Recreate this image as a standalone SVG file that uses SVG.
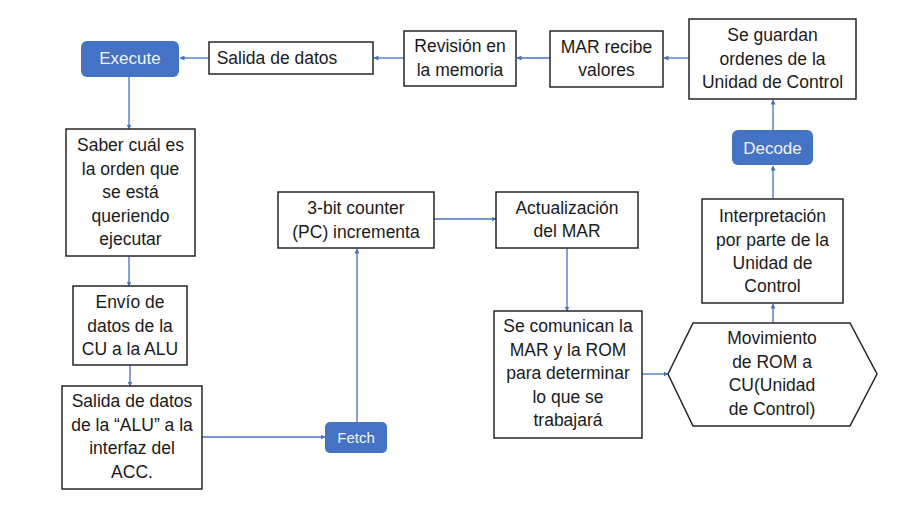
<svg xmlns="http://www.w3.org/2000/svg" width="913" height="508" viewBox="0 0 913 508">
<defs>
<marker id="ah" viewBox="0 0 10 10" refX="9" refY="5" markerWidth="5" markerHeight="5" orient="auto" markerUnits="userSpaceOnUse">
<path d="M0,0 L10,5 L0,10 z" fill="#4472C4"/>
</marker>
</defs>
<style>
.box{fill:#fff;stroke:#262626;stroke-width:1.5}
.blue{fill:#4472C4;stroke:none}
.t{font-family:"Liberation Sans",Arial,sans-serif;font-size:17.5px;fill:#1a1a1a;text-anchor:middle}
.w{font-family:"Liberation Sans",Arial,sans-serif;font-size:17px;fill:#f2f2f2;text-anchor:middle}
.c{fill:none;stroke:#4472C4;stroke-width:1.3;marker-end:url(#ah)}
</style>
<rect width="913" height="508" fill="#fff"/>
<g id="connectors">
<line class="c" x1="689" y1="58" x2="664" y2="58"/>
<line class="c" x1="550" y1="58" x2="517" y2="58"/>
<line class="c" x1="404" y1="58" x2="374" y2="58"/>
<line class="c" x1="209" y1="58" x2="180" y2="58"/>
<line class="c" x1="129" y1="77" x2="129" y2="129"/>
<line class="c" x1="129" y1="256" x2="129" y2="286"/>
<line class="c" x1="130" y1="365" x2="130" y2="386"/>
<line class="c" x1="202" y1="437" x2="325" y2="437"/>
<line class="c" x1="357" y1="422" x2="357" y2="249"/>
<line class="c" x1="434" y1="219" x2="496" y2="219"/>
<line class="c" x1="567" y1="248" x2="567" y2="311"/>
<line class="c" x1="642" y1="374" x2="668" y2="374"/>
<line class="c" x1="773" y1="323" x2="773" y2="304"/>
<line class="c" x1="773" y1="199" x2="773" y2="166"/>
<line class="c" x1="773" y1="130" x2="773" y2="100"/>
</g>
<g id="execute">
<rect class="blue" x="81" y="41" width="98" height="36" rx="6"/>
<text class="w" x="130" y="64">Execute</text>
</g>
<g id="salida-datos">
<rect class="box" x="209" y="42" width="164" height="32"/>
<text class="t" x="277" y="64">Salida de datos</text>
</g>
<g id="revision">
<rect class="box" x="404" y="31" width="112" height="55"/>
<text class="t" x="460" y="52">Revisión en</text>
<text class="t" x="460" y="75.5">la memoria</text>
</g>
<g id="mar-recibe">
<rect class="box" x="550" y="31" width="113" height="56"/>
<text class="t" x="606.5" y="53">MAR recibe</text>
<text class="t" x="606.5" y="76">valores</text>
</g>
<g id="se-guardan">
<rect class="box" x="689" y="19" width="167" height="80"/>
<text class="t" x="772.5" y="41">Se guardan</text>
<text class="t" x="772.5" y="64.5">ordenes de la</text>
<text class="t" x="772.5" y="88">Unidad de Control</text>
</g>
<g id="decode">
<rect class="blue" x="732" y="130" width="81" height="35" rx="6"/>
<text class="w" x="772.5" y="153.5">Decode</text>
</g>
<g id="interpretacion">
<rect class="box" x="702" y="199" width="141" height="104"/>
<text class="t" x="772.5" y="222">Interpretación</text>
<text class="t" x="772.5" y="245.5">por parte de la</text>
<text class="t" x="772.5" y="269">Unidad de</text>
<text class="t" x="772.5" y="292">Control</text>
</g>
<g id="movimiento">
<polygon class="box" points="668,374 693,323 850,323 877,374 850,426 693,426"/>
<text class="t" x="772" y="344">Movimiento</text>
<text class="t" x="772" y="367.5">de ROM a</text>
<text class="t" x="772" y="391">CU(Unidad</text>
<text class="t" x="772" y="414.5">de Control)</text>
</g>
<g id="se-comunican">
<rect class="box" x="494" y="311" width="148" height="127"/>
<text class="t" x="568" y="332">Se comunican la</text>
<text class="t" x="568" y="355.5">MAR y la ROM</text>
<text class="t" x="568" y="379">para determinar</text>
<text class="t" x="568" y="402.5">lo que se</text>
<text class="t" x="568" y="426">trabajará</text>
</g>
<g id="actualizacion">
<rect class="box" x="496" y="192" width="142" height="56"/>
<text class="t" x="567" y="213.5">Actualización</text>
<text class="t" x="567" y="237">del MAR</text>
</g>
<g id="counter">
<rect class="box" x="278" y="192" width="156" height="56"/>
<text class="t" x="356" y="214">3-bit counter</text>
<text class="t" x="356" y="237.5">(PC) incrementa</text>
</g>
<g id="fetch">
<rect class="blue" x="325" y="422" width="62" height="31" rx="5"/>
<text class="w" x="356" y="442.5" style="font-size:15px">Fetch</text>
</g>
<g id="saber">
<rect class="box" x="66" y="129" width="129" height="127"/>
<text class="t" x="130.5" y="151">Saber cuál es</text>
<text class="t" x="130.5" y="174.5">la orden que</text>
<text class="t" x="130.5" y="198">se está</text>
<text class="t" x="130.5" y="221.5">queriendo</text>
<text class="t" x="130.5" y="245">ejecutar</text>
</g>
<g id="envio">
<rect class="box" x="73" y="286" width="114" height="79"/>
<text class="t" x="130" y="308">Envío de</text>
<text class="t" x="130" y="331.5">datos de la</text>
<text class="t" x="130" y="355">CU a la ALU</text>
</g>
<g id="salida-alu">
<rect class="box" x="62" y="386" width="140" height="103"/>
<text class="t" x="132" y="407">Salida de datos</text>
<text class="t" x="132" y="430.5">de la “ALU” a la</text>
<text class="t" x="132" y="454">interfaz del</text>
<text class="t" x="132" y="477.5">ACC.</text>
</g>
</svg>
